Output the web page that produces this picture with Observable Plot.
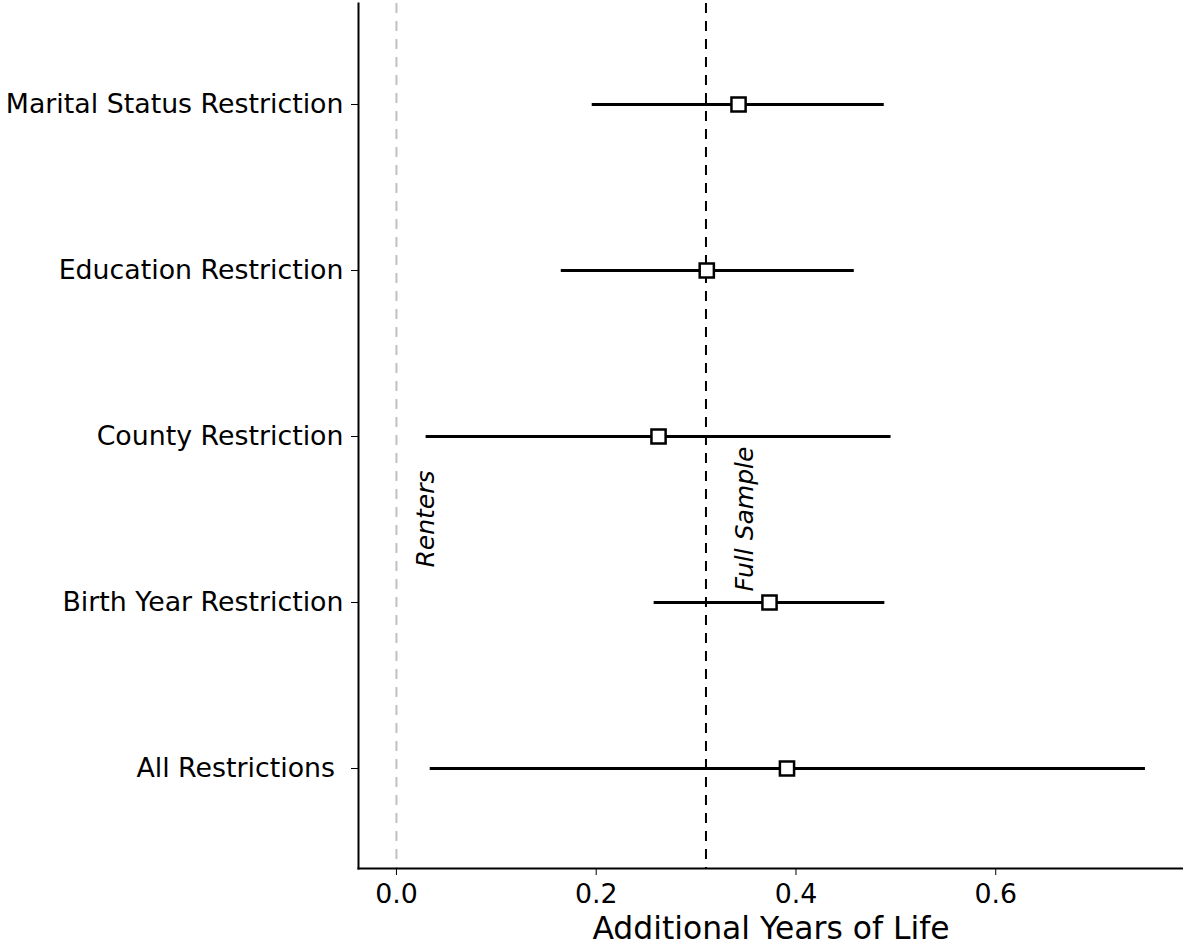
<!DOCTYPE html>
<html><head><meta charset="utf-8">
<script src="https://cdn.jsdelivr.net/npm/d3@7"></script>
<script src="https://cdn.jsdelivr.net/npm/@observablehq/plot@0.6"></script>
<style>body{margin:0;background:#fff} svg text{white-space:pre}</style>
</head><body><div id="chart"></div>
<script>
const categories = ["Marital Status Restriction", "Education Restriction", "County Restriction", "Birth Year Restriction", "All Restrictions "];
const estimates = [0.3425, 0.3107, 0.2624, 0.3735, 0.391];
const lower = [0.196, 0.165, 0.0297, 0.258, 0.0338];
const upper = [0.4884, 0.4584, 0.4952, 0.489, 0.7499];
const fullSample = 0.3099;
const renters = 0;
const refLabels = [{label: "Renters", x: 0.030}, {label: "Full Sample", x: 0.349}];
const xTicks = [0, 0.2, 0.4, 0.6];
const xLabel = "Additional Years of Life";

const rows = categories.map((c, i) => ({category: c, est: estimates[i], lo: lower[i], hi: upper[i]}));

const chart = Plot.plot({
  width: 1183, height: 946,
  marginLeft: 358, marginRight: 0, marginTop: 3, marginBottom: 78,
  style: {fontFamily: "'DejaVu Sans', sans-serif", background: "white", color: "black"},
  x: {domain: [-0.038, 0.788]},
  y: {type: "point", domain: categories, padding: 0.6, align: 0.504},
  marks: [
    Plot.ruleX([renters], {stroke: "#c0c0c0", strokeWidth: 2, strokeDasharray: "10,8"}),
    Plot.ruleX([fullSample], {stroke: "black", strokeWidth: 2, strokeDasharray: "10,8"}),
    Plot.ruleY(rows, {y: "category", x1: "lo", x2: "hi", stroke: "black", strokeWidth: 3}),
    Plot.dot(rows, {x: "est", y: "category", symbol: "square", r: 8, fill: "white", stroke: "black", strokeWidth: 2.5}),
    Plot.text(refLabels, {x: "x", text: "label", frameAnchor: "middle", dy: 83, rotate: -90, fontSize: 25, fontStyle: "italic", lineAnchor: "middle", fill: "black"}),
    Plot.frame({anchor: "left", strokeWidth: 2}),
    Plot.frame({anchor: "bottom", strokeWidth: 2}),
    Plot.axisX({ticks: xTicks, tickFormat: d3.format(".1f"), tickSize: 7, tickPadding: 8, fontSize: 26.8, label: null}),
    Plot.axisY({tickSize: 7, tickPadding: 8, fontSize: 26.8, label: null}),
    Plot.text([xLabel], {text: d => d, frameAnchor: "bottom", dy: 60, fontSize: 31.4, lineAnchor: "middle", fill: "black"})
  ]
});
document.getElementById("chart").appendChild(chart);
</script>
</body></html>
